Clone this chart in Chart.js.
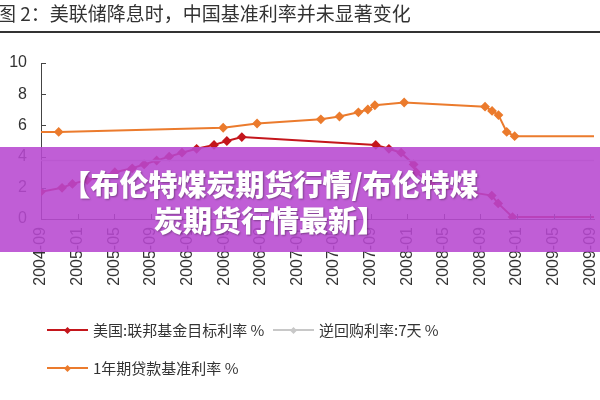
<!DOCTYPE html>
<html><head><meta charset="utf-8">
<script src="https://cdn.jsdelivr.net/npm/chart.js@4"></script>
<style>
html,body{margin:0;padding:0;background:#fff;}
#wrap{position:relative;width:600px;height:400px;overflow:hidden;font-family:"Noto Sans CJK SC","Noto Sans",sans-serif;}
#title{position:absolute;left:-3px;top:0px;font-size:19px;color:#333;white-space:nowrap;line-height:26px;}
#rule{position:absolute;left:0;top:31px;width:600px;height:2px;background:#333;}
canvas{position:absolute;left:0;top:0;}
#banner{position:absolute;left:0;top:147px;width:600px;height:105px;background:rgba(183,72,208,0.88);}
#btext{position:absolute;left:0;top:165px;width:540px;text-align:center;color:#fff;font-weight:900;font-size:29px;line-height:36px;text-shadow:1px 1px 2px rgba(0,0,0,0.35);font-family:"Noto Sans CJK SC",sans-serif;}
.leg{position:absolute;font-size:15px;color:#333;white-space:nowrap;line-height:20px;}
.sw{position:absolute;height:2px;}
.dot{position:absolute;width:5px;height:5px;transform:rotate(45deg);}
</style></head>
<body><div id="wrap">
<canvas id="c" width="600" height="400"></canvas>
<div id="title"></div><div id="rule"></div>
<div id="legend"></div>
<div id="banner"></div>
<div id="btext"></div>
</div>
<script>
const titleText = '图 2：美联储降息时，中国基准利率并未显著变化';
const bannerLines = ['【布伦特煤炭期货行情/布伦特煤', '炭期货行情最新】'];
const seriesNames = ['美国:联邦基金目标利率 %', '逆回购利率:7天 %', '1年期贷款基准利率 %'];
const seriesColors = ['#C4161C', '#C8C8C8', '#EB7B2D'];

const fedDates = ['2004-09-01','2004-11-10','2004-12-14','2005-02-02','2005-03-22','2005-05-03','2005-06-30','2005-08-09','2005-09-20','2005-11-01','2005-12-13','2006-01-31','2006-03-28','2006-05-10','2006-06-29','2007-09-18','2007-10-31','2007-12-11','2008-01-22','2008-01-30','2008-03-18','2008-04-30','2008-10-08','2008-10-29','2008-12-16','2009-09-13'];
const fedValues = [1.75,2.0,2.25,2.5,2.75,3.0,3.25,3.5,3.75,4.0,4.25,4.5,4.75,5.0,5.25,4.75,4.5,4.25,3.5,3.0,2.25,2.0,1.5,1.0,0.125,0.125];

const repoDates = ['2004-09-01','2009-09-13'];
const repoValues = [3.75,3.75];

const loanDates = ['2004-09-01','2004-10-29','2006-04-28','2006-08-19','2007-03-18','2007-05-19','2007-07-21','2007-08-22','2007-09-15','2007-12-21','2008-09-16','2008-10-09','2008-10-30','2008-11-27','2008-12-23','2009-09-13'];
const loanValues = [5.58,5.58,5.85,6.12,6.39,6.57,6.84,7.02,7.29,7.47,7.20,6.93,6.66,5.58,5.31,5.31];

const yTicks = [0,2,4,6,8,10];
const startYear = 2004, startMonth = 9;

function monthOffset(s){const [y,m,d]=s.split('-').map(Number);return (y-startYear)*12+(m-startMonth)+(d-1)/30;}
function toPts(dates,vals){return dates.map((d,i)=>({x:monthOffset(d),y:vals[i]}));}
function tickLabel(v){const t=startMonth-1+v;const y=startYear+Math.floor(t/12);const m=t%12+1;return y+'-'+String(m).padStart(2,'0');}

document.getElementById('title').textContent = titleText;
document.getElementById('btext').innerHTML = bannerLines.map(l=>'<div>'+l+'</div>').join('');

// legend
const legPos = [[47,320],[273,320],[47,358]];
const legEl = document.getElementById('legend');
seriesNames.forEach((n,i)=>{
  const [x,y]=legPos[i];
  legEl.insertAdjacentHTML('beforeend',
   `<div class="sw" style="left:${x}px;top:${y+9}px;width:41px;background:${seriesColors[i]}"></div>`+
   `<div class="dot" style="left:${x+18}px;top:${y+7.5}px;background:${seriesColors[i]}"></div>`+
   `<div class="leg" style="left:${x+46}px;top:${y}px">${n}</div>`);
});

const lastZero = (ctx)=> (ctx.dataIndex===0 || ctx.dataIndex===ctx.dataset.data.length-1) ? 0 : 3.5;
const lastZeroFed = (ctx)=> (ctx.dataIndex===ctx.dataset.data.length-1) ? 0 : 3.5;

const inwardTicks = {
  id:'inwardTicks',
  afterDraw(chart){
    const c=chart.ctx, xs=chart.scales.x, ys=chart.scales.y, a=chart.chartArea;
    c.save(); c.strokeStyle='#444'; c.lineWidth=1;
    yTicks.forEach(v=>{const p=Math.round(ys.getPixelForValue(v))+0.5;c.beginPath();c.moveTo(a.left,p);c.lineTo(a.left+5,p);c.stroke();});
    xs.ticks.forEach(t=>{const p=Math.round(xs.getPixelForValue(t.value))+0.5;c.beginPath();c.moveTo(p,a.bottom);c.lineTo(p,a.bottom-5);c.stroke();});
    c.restore();
  }
};

new Chart(document.getElementById('c'),{
  type:'line',
  data:{datasets:[
    {label:seriesNames[1],data:toPts(repoDates,repoValues),borderColor:seriesColors[1],borderWidth:1.5,pointRadius:0},
    {label:seriesNames[2],data:toPts(loanDates,loanValues),borderColor:seriesColors[2],backgroundColor:seriesColors[2],borderWidth:2,pointStyle:'rectRot',pointRadius:lastZero,tension:0},
    {label:seriesNames[0],data:toPts(fedDates,fedValues),borderColor:seriesColors[0],backgroundColor:seriesColors[0],borderWidth:2,pointStyle:'rectRot',pointRadius:lastZeroFed,tension:0}
  ]},
  options:{
    responsive:false,animation:false,
    layout:{padding:{top:63,right:3,left:0,bottom:0}},
    plugins:{legend:{display:false},tooltip:{enabled:false}},
    scales:{
      x:{type:'linear',min:0,max:60.4,
        afterFit(s){s.height=181;s.paddingLeft=0;s.paddingRight=0;},
        grid:{display:false,drawTicks:false},
        border:{display:true,color:'#555',width:1},
        ticks:{stepSize:4,includeBounds:false,maxRotation:90,minRotation:90,padding:8,color:'#333',
          font:{family:'"Liberation Sans", Arial, sans-serif',size:16},callback:(v)=>tickLabel(v)}},
      y:{min:0,max:10,
        afterFit(s){s.width=41;s.paddingTop=0;s.paddingBottom=0;},
        grid:{display:false,drawTicks:false},
        border:{display:true,color:'#444',width:1},
        ticks:{stepSize:2,padding:14,color:'#333',font:{family:'"Liberation Sans", Arial, sans-serif',size:16}}}
    }
  },
  plugins:[inwardTicks]
});
</script>
</body></html>
